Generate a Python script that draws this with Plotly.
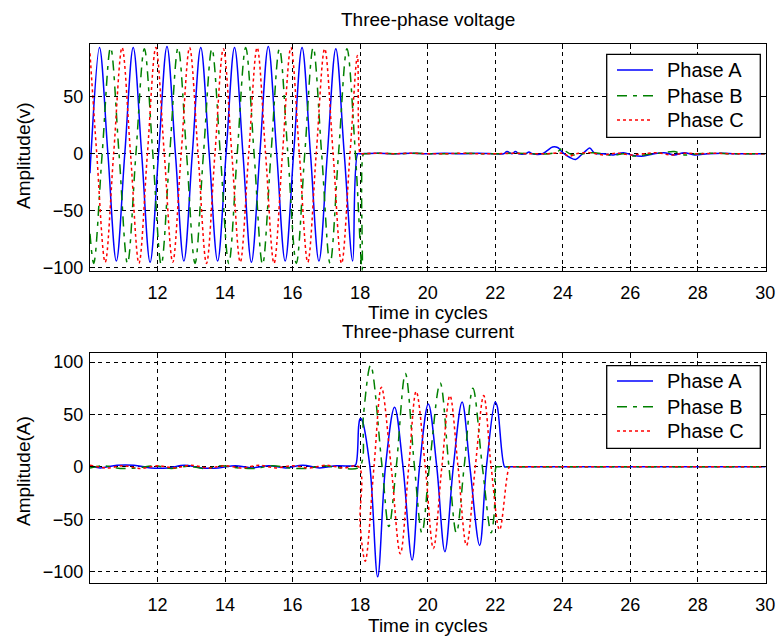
import plotly.graph_objects as go

# ---------------------------------------------------------------
# Three-phase voltage (key points: zero crossings and extrema, in cycles)
# ---------------------------------------------------------------
va_t = [10.0, 10.03, 10.28, 10.53, 10.78, 11.03, 11.28, 11.53, 11.78,
        12.03, 12.28, 12.53, 12.78, 13.03, 13.28, 13.53, 13.78,
        14.03, 14.28, 14.53, 14.78, 15.03, 15.28, 15.53, 15.78,
        16.03, 16.28, 16.53, 16.78, 17.03, 17.28, 17.53, 17.78, 17.93,
        18.0, 18.5, 19.0, 19.5, 20.0, 20.5, 21.0, 21.5, 22.0, 22.25, 22.35,
        22.5, 22.6, 22.7, 22.9, 23.0, 23.1, 23.4, 23.55, 23.7, 23.85, 24.0,
        24.2, 24.38, 24.55, 24.7, 24.8, 24.95, 25.2, 25.5, 25.8, 26.1, 26.4,
        26.7, 27.0, 27.3, 27.6, 27.9, 28.3, 28.7, 29.1, 29.5, 30.0]
va_y = [-17, 0, 93, 0, -94, 0, 93, 0, -95,
        0, 94, 0, -94, 0, 93, 0, -94,
        0, 93, 0, -95, 0, 94, 0, -94,
        0, 93, 0, -94, 0, 92, 0, -94, 0,
        0, 0.5, 0, 0.5, 0, 0.5, 0, 0.5, 0, 0, 2,
        0, 2, 0, 0, 1.5, 0, 0, 3, 6, 5.5, 1,
        -3, -5, -1, 3, 5, 0.5, 0, -1, 1, -1.5, -2,
        0, 1, -1, 1, -1, 0, 0.5, 0, 0, 0]

vb_t = [10.0, 10.11, 10.36, 10.61, 10.86, 11.11, 11.36, 11.61, 11.86,
        12.11, 12.36, 12.61, 12.86, 13.11, 13.36, 13.61, 13.86,
        14.11, 14.36, 14.61, 14.86, 15.11, 15.36, 15.61, 15.86,
        16.11, 16.36, 16.61, 16.86, 17.11, 17.36, 17.61, 17.86, 18.06, 18.1,
        18.15, 18.6, 19.1, 19.6, 20.1, 20.6, 21.1, 21.6, 22.1, 22.6, 23.1,
        23.6, 23.85, 24.0, 24.1, 24.3, 24.6, 24.9, 25.2, 25.5, 25.8, 26.1,
        26.4, 26.7, 27.0, 27.3, 27.6, 28.0, 28.5, 29.0, 29.5, 30.0]
vb_y = [-70, -96, 0, 93, 0, -96, 0, 92, 0,
        -97, 0, 93, 0, -96, 0, 92, 0,
        -96, 0, 93, 0, -97, 0, 92, 0,
        -96, 0, 93, 0, -96, 0, 92, 0, -102, 0,
        0, 0.5, 0, 0.5, 0, 0, 0.5, 0, 0, 0.5, 0,
        0, 2, 5, 2, -1, 0, 1, 0, -1.5, 0, -2,
        -1, 0, 1, 2, -1, 0, 0.5, 0, 0, 0]

vc_t = [10.0, 10.2, 10.45, 10.7, 10.95, 11.2, 11.45, 11.7, 11.95,
        12.2, 12.45, 12.7, 12.95, 13.2, 13.45, 13.7, 13.95,
        14.2, 14.45, 14.7, 14.95, 15.2, 15.45, 15.7, 15.95,
        16.2, 16.45, 16.7, 16.95, 17.2, 17.45, 17.7, 17.92, 18.0, 18.03,
        18.5, 19.0, 19.5, 20.0, 20.5, 21.0, 21.5, 22.0, 22.5, 23.0, 23.5,
        24.0, 24.2, 24.4, 24.8, 25.2, 25.6, 26.0, 26.4, 26.8, 27.2, 27.6,
        28.0, 28.5, 29.0, 29.5, 30.0]
vc_y = [88, 0, -95, 0, 93, 0, -96, 0, 93,
        0, -95, 0, 93, 0, -96, 0, 92,
        0, -95, 0, 93, 0, -96, 0, 93,
        0, -95, 0, 92, 0, -96, 0, 86, 0, 0,
        0.5, 0, 0.5, 0, 0, 0.5, 0, 0, 0.5, 0, 0,
        0.5, -2, 0, 1, -1, 0.5, -1, 0, 1, -1, 0.5,
        0, 0.5, 0, 0, 0]

# ---------------------------------------------------------------
# Three-phase current
# ---------------------------------------------------------------
ia_t = [10.0, 10.3, 10.8, 11.3, 11.8, 12.3, 12.8, 13.3, 13.8, 14.3, 14.8,
        15.3, 15.8, 16.3, 16.8, 17.3, 17.8,
        17.87, 17.96, 18.0, 18.05, 18.29, 18.52, 18.75, 19.02, 19.27, 19.54,
        19.76, 20.02, 20.27, 20.51, 20.76, 21.02, 21.25, 21.54, 21.74, 22.0,
        22.06, 22.28, 22.34, 23.0, 30.0]
ia_y = [1, -1, 1.5, 1.5, -1, -1, 1.5, -1, -1, 1, -1,
        1, -1, 1.5, -1, 1, 1,
        2, 40, 46, 45, 0, -105, 0, 57, 0, -89,
        0, 60, 0, -81, 0, 62, 0, -75, 0, 62,
        58, 0, 0, 0, 0]

ib_t = [10.0, 10.4, 10.9, 11.4, 11.9, 12.4, 12.9, 13.4, 13.9, 14.4, 14.9,
        15.4, 15.9, 16.4, 16.9, 17.4, 17.98,
        18.1, 18.31, 18.65, 18.85, 19.07, 19.34, 19.61, 19.83, 20.05, 20.37,
        20.63, 20.85, 21.08, 21.34, 21.62, 21.88, 21.97, 22.03, 22.07, 23.0,
        30.0]
ib_y = [-1, 1, -1.5, -1, 1, -1.5, 0.5, -1.5, 1, -1, -1.5,
        1, -1, -1.5, 1, -1, 0,
        50, 97, 0, -57, 0, 89, 0, -63, 0, 80,
        0, -63, 0, 75, 0, -63, -45, 0, 0, 0,
        0]

ic_t = [10.0, 10.5, 11.0, 11.5, 12.0, 12.5, 13.0, 13.5, 14.0, 14.5, 15.0,
        15.5, 16.0, 16.5, 17.0, 17.5, 17.96,
        18.0, 18.15, 18.41, 18.63, 18.92, 19.19, 19.44, 19.66, 19.93, 20.17,
        20.42, 20.66, 20.9, 21.15, 21.41, 21.66, 21.88, 22.13, 22.42, 22.47,
        23.0, 30.0]
ic_y = [1.5, -1, 1, -1.5, 1, -1, 1.5, -1, 1, -1, 1.5,
        -1, 1, -1, 1.5, -1, 0,
        -55, -90, 0, 76, 0, -83, 0, 72, 0, -78,
        0, 68, 0, -75, 0, 68, 0, -60, 0, 0,
        0, 0]

phase_names = ["Phase A", "Phase B", "Phase C"]
phase_colors = ["rgb(0,0,255)", "rgb(0,128,0)", "rgb(255,0,0)"]
phase_dashes = ["solid", "10px,6px,4px,6px", "3px,3px"]

x_ticks = [12, 14, 16, 18, 20, 22, 24, 26, 28, 30]
v_ticks = [-100, -50, 0, 50]
i_ticks = [-100, -50, 0, 50, 100]

FONT = "Liberation Sans, Arial, sans-serif"
W, H = 777, 637


def px_x(p):
    return p / W


def px_y(p):
    return 1 - p / H


fig = go.Figure()

voltage = [(va_t, va_y), (vb_t, vb_y), (vc_t, vc_y)]
current = [(ia_t, ia_y), (ib_t, ib_y), (ic_t, ic_y)]

for (t, y), name, col, dash in zip(voltage, phase_names, phase_colors, phase_dashes):
    fig.add_trace(go.Scatter(x=t, y=y, mode="lines", name=name, showlegend=False,
                             line=dict(color=col, width=1.5, dash=dash, shape="spline", smoothing=1),
                             xaxis="x", yaxis="y"))
for (t, y), name, col, dash in zip(current, phase_names, phase_colors, phase_dashes):
    fig.add_trace(go.Scatter(x=t, y=y, mode="lines", name=name, showlegend=False,
                             line=dict(color=col, width=1.5, dash=dash, shape="spline", smoothing=1),
                             xaxis="x2", yaxis="y2"))

# right edge leaves room for the full "30" tick label
xdom = [px_x(90), px_x(766)]
axis_common = dict(showline=True, linecolor="black", linewidth=1.3, mirror="allticks",
                   ticks="inside", ticklen=5, tickcolor="black", tickwidth=1,
                   showgrid=True, gridcolor="black", gridwidth=1, griddash="4px,4px",
                   zeroline=False, automargin=False, ticklabeloverflow="allow",
                   tickfont=dict(family=FONT, size=18, color="black"))

fig.update_layout(
    width=W, height=H,
    margin=dict(l=0, r=0, t=0, b=0, autoexpand=False),
    paper_bgcolor="white", plot_bgcolor="white",
    font=dict(family=FONT, size=19, color="black"),
    showlegend=False,
    xaxis=dict(domain=xdom, range=[10, 30.02], tickvals=x_ticks, anchor="y",
               ticklabelstandoff=6, **axis_common),
    yaxis=dict(domain=[px_y(270.7), px_y(44.3)], range=[-102.4, 95.9], tickvals=v_ticks,
               anchor="x", ticklabelstandoff=2, **axis_common),
    xaxis2=dict(domain=xdom, range=[10, 30.02], tickvals=x_ticks, anchor="y2",
                ticklabelstandoff=6, **axis_common),
    yaxis2=dict(domain=[px_y(582.5), px_y(353.3)], range=[-110.4, 108.4], tickvals=i_ticks,
                anchor="x2", ticklabelstandoff=2, **axis_common),
)

# Titles and axis labels
labels = [
    ("Three-phase voltage", 428, 20, 0),
    ("Time in cycles", 428, 312, 0),
    ("Three-phase current", 428, 331, 0),
    ("Time in cycles", 428, 625, 0),
    ("Amplitude(v)", 23, 156, -90),
    ("Amplitude(A)", 23, 471, -90),
]
for text, x, y, ang in labels:
    fig.add_annotation(text=text, x=px_x(x), y=px_y(y), xref="paper", yref="paper",
                       xanchor="center", yanchor="middle", showarrow=False, textangle=ang,
                       font=dict(family=FONT, size=19, color="black"))

# Boxed legends (one per subplot)
legend_boxes = [(54.3, 137.3, [70, 95.7, 120]), (365.7, 448.3, [381, 406.7, 431])]
for top, bottom, rows in legend_boxes:
    fig.add_shape(type="rect", xref="paper", yref="paper",
                  x0=px_x(606.7), x1=px_x(760.3), y0=px_y(bottom), y1=px_y(top),
                  line=dict(color="black", width=1.3), fillcolor="white", layer="above")
    for row, name, col, dash in zip(rows, phase_names, phase_colors, phase_dashes):
        fig.add_shape(type="line", xref="paper", yref="paper",
                      x0=px_x(617), x1=px_x(653), y0=px_y(row), y1=px_y(row),
                      line=dict(color=col, width=1.5, dash=dash), layer="above")
        fig.add_annotation(text=name, x=px_x(665), y=px_y(row), xref="paper", yref="paper",
                           xanchor="left", yanchor="middle", showarrow=False,
                           font=dict(family=FONT, size=20, color="black"))

fig.write_html("out.html")
